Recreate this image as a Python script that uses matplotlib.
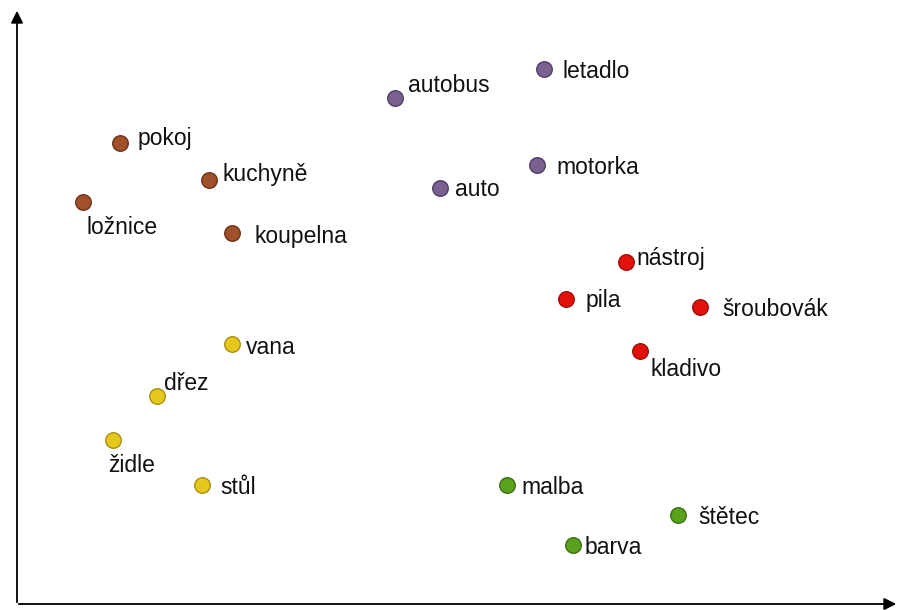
import matplotlib
matplotlib.use('Agg')
import matplotlib.pyplot as plt

plt.rcParams['font.family'] = ['Liberation Sans', 'DejaVu Sans']

words = ['pokoj', 'kuchyně', 'ložnice', 'koupelna',
         'autobus', 'letadlo', 'auto', 'motorka',
         'nástroj', 'pila', 'šroubovák', 'kladivo',
         'vana', 'dřez', 'židle', 'stůl',
         'malba', 'štětec', 'barva']
x_vals = [120, 209, 83, 232,
          395, 544, 440, 537,
          626, 566, 700, 640,
          232, 157, 113, 202,
          507, 678, 573]
y_vals = [143, 180, 202, 233,
          98, 69, 188, 165,
          262, 299, 307, 351,
          344, 396, 440, 485,
          485, 515, 545]
groups = ['home'] * 4 + ['vehicle'] * 4 + ['tool'] * 4 + ['bath'] * 4 + ['paint'] * 3

group_colors = {
    'home': ('#a0502a', '#6e3418'),
    'vehicle': ('#7a6192', '#4f3d63'),
    'tool': ('#e2120b', '#a00c07'),
    'bath': ('#e6c81c', '#a89012'),
    'paint': ('#5aa21e', '#3b7012'),
}

# label offsets in pixels (dx, dy downward)
label_offsets = [(18, -5), (13, -5), (3, 25), (23, 3),
                 (13, -12), (19, 2), (15, 2), (19, 2),
                 (10, -4), (20, 2), (22, 2), (11, 18),
                 (14, 3), (7, -13), (-5, 25), (18, 3),
                 (14, 3), (20, 2), (12, 2)]

fig = plt.figure(figsize=(9, 6.1), dpi=100)
ax = fig.add_axes([0, 0, 1, 1])
ax.set_xlim(0, 900)
ax.set_ylim(610, 0)
ax.axis('off')

for w, x, y, g, (dx, dy) in zip(words, x_vals, y_vals, groups, label_offsets):
    face, edge = group_colors[g]
    ax.scatter(x, y, s=125, color=face, edgecolors=edge, linewidths=1.0, zorder=3)
    ax.text(x + dx, y + dy, w, fontsize=16.5, ha='left', va='center', color='#111111')

# axes with arrows
ax.annotate('', xy=(17, 8), xytext=(17, 605),
            arrowprops=dict(arrowstyle='-|>', color='black', lw=1.3, mutation_scale=18))
ax.annotate('', xy=(899, 604), xytext=(16, 604),
            arrowprops=dict(arrowstyle='-|>', color='black', lw=1.3, mutation_scale=18))

plt.savefig('out.png', dpi=100)
plt.close()
